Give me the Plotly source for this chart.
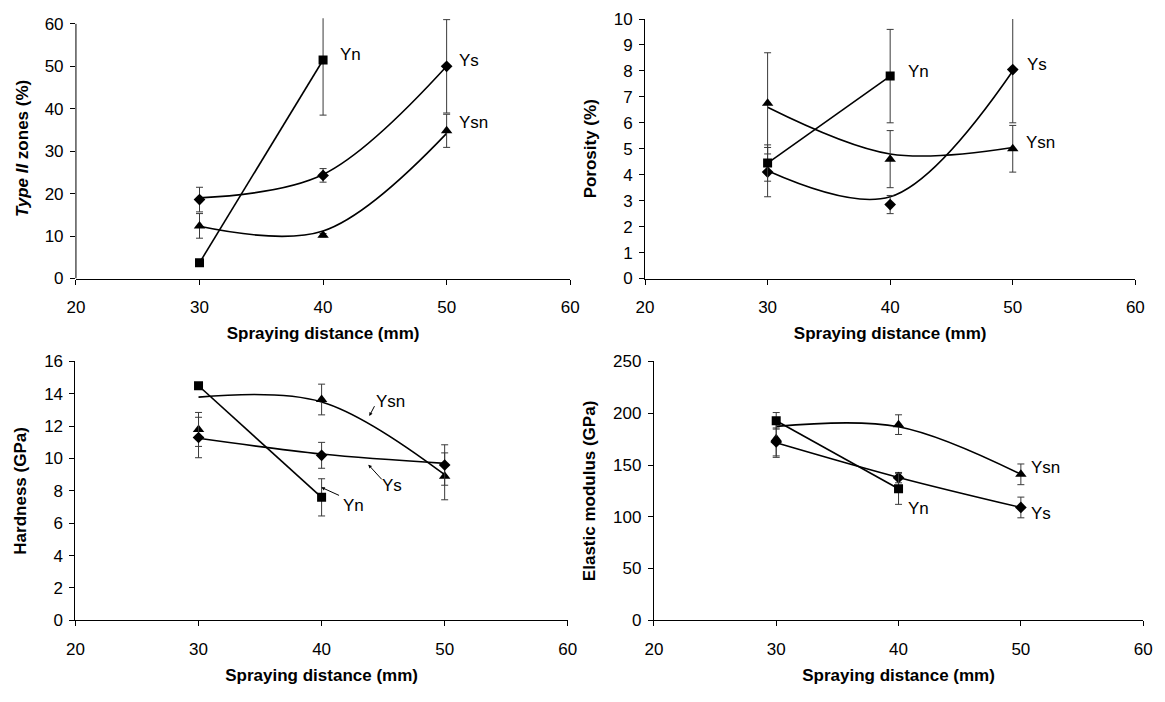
import plotly.graph_objects as go

# ---------------- data ----------------
distance = [30, 40, 50]
distance_yn = [30, 40]

# Panel 1: Type II zones (%)
t2_yn = [3.7, 51.5]
t2_yn_err = [0.5, 13.0]
t2_ys = [18.6, 24.3, 50.0]
t2_ys_err = [2.9, 1.6, 11.0]
t2_ysn = [12.4, 10.2, 34.8]
t2_ysn_err = [2.9, 0.4, 3.9]
t2_ys_curve = [19.0, 24.5, 50.0]
t2_ysn_curve = [12.3, 11.2, 34.2]

# Panel 2: Porosity (%)
po_yn = [4.45, 7.8]
po_yn_err = [0.7, 1.8]
po_ys = [4.1, 2.85, 8.05]
po_ys_err = [0.95, 0.35, 2.05]
po_ysn = [6.75, 4.6, 5.0]
po_ysn_err = [1.95, 1.1, 0.9]
po_ys_curve = [4.15, 3.15, 8.0]
po_ysn_curve = [6.6, 4.8, 5.05]

# Panel 3: Hardness (GPa)
hd_yn = [14.5, 7.6]
hd_yn_err = [0.15, 1.15]
hd_ys = [11.3, 10.2, 9.6]
hd_ys_err = [1.25, 0.8, 1.25]
hd_ysn = [11.8, 13.65, 8.9]
hd_ysn_err = [1.05, 0.95, 1.45]
hd_ys_curve = [11.25, 10.28, 9.7]
hd_ysn_curve = [13.8, 13.5, 9.0]

# Panel 4: Elastic modulus (GPa)
em_yn = [192.7, 127.0]
em_yn_err = [8.0, 15.0]
em_ys = [172.3, 137.8, 109.0]
em_ys_err = [13.5, 5.0, 10.0]
em_ysn = [175.4, 189.0, 141.0]
em_ysn_err = [18.0, 9.5, 10.0]
em_ys_curve = [171.5, 138.0, 109.0]
em_ysn_curve = [187.3, 187.0, 141.0]

x_ticks = [20, 30, 40, 50, 60]

# ---------------- styling ----------------
FONT = "Arial, Liberation Sans, sans-serif"
FS = 17
W, H = 1165, 702
BLACK = "#000000"
ERRC = "#3a3a3a"


def xdom(p0, p1):
    return [p0 / W, p1 / W]


def ydom(top, bottom):
    return [1 - bottom / H, 1 - top / H]


fig = go.Figure()


def add_panel(n, yn, yn_err, ys, ys_err, ysn, ysn_err, ys_curve, ysn_curve):
    xa = "x" if n == 1 else f"x{n}"
    ya = "y" if n == 1 else f"y{n}"
    common = dict(xaxis=xa, yaxis=ya, showlegend=False, hoverinfo="skip")
    spl = dict(color=BLACK, width=1.6, shape="spline", smoothing=1.0)
    fig.add_trace(go.Scatter(x=distance, y=ysn_curve, mode="lines", line=spl, **common))
    fig.add_trace(go.Scatter(x=distance, y=ys_curve, mode="lines", line=spl, **common))
    fig.add_trace(go.Scatter(x=distance_yn, y=yn, mode="lines",
                             line=dict(color=BLACK, width=1.6), **common))
    eb = dict(type="data", visible=True, color=ERRC, thickness=1, width=3.5)
    fig.add_trace(go.Scatter(x=distance, y=ysn, mode="markers",
                             marker=dict(symbol="triangle-up", size=10, color=BLACK),
                             error_y=dict(array=ysn_err, **eb), **common))
    fig.add_trace(go.Scatter(x=distance, y=ys, mode="markers",
                             marker=dict(symbol="diamond", size=9, color=BLACK),
                             error_y=dict(array=ys_err, **eb), **common))
    fig.add_trace(go.Scatter(x=distance_yn, y=yn, mode="markers",
                             marker=dict(symbol="square", size=9, color=BLACK),
                             error_y=dict(array=yn_err, **eb), **common))


add_panel(1, t2_yn, t2_yn_err, t2_ys, t2_ys_err, t2_ysn, t2_ysn_err, t2_ys_curve, t2_ysn_curve)
add_panel(2, po_yn, po_yn_err, po_ys, po_ys_err, po_ysn, po_ysn_err, po_ys_curve, po_ysn_curve)
add_panel(3, hd_yn, hd_yn_err, hd_ys, hd_ys_err, hd_ysn, hd_ysn_err, hd_ys_curve, hd_ysn_curve)
add_panel(4, em_yn, em_yn_err, em_ys, em_ys_err, em_ysn, em_ysn_err, em_ys_curve, em_ysn_curve)

tickfont = dict(family=FONT, size=FS, color=BLACK)
titlefont = dict(family=FONT, size=FS, color=BLACK)


def xaxis(dom, anchor):
    return dict(domain=dom, anchor=anchor, range=[20, 60], tickvals=x_ticks,
                showline=True, linecolor=BLACK, linewidth=1, ticks="outside",
                ticklen=5, tickcolor=BLACK, showgrid=False, zeroline=False,
                tickfont=tickfont, ticklabelstandoff=8,
                title=dict(text="<b>Spraying distance (mm)</b>", font=titlefont, standoff=11))


def yaxis(dom, anchor, rng, tickvals, title, standoff, showline=True):
    return dict(domain=dom, anchor=anchor, range=rng, tickvals=tickvals,
                showline=showline, linecolor=BLACK, linewidth=1, ticks="outside",
                ticklen=5, tickcolor=BLACK, showgrid=False, zeroline=False,
                tickfont=tickfont, ticklabelstandoff=3,
                title=dict(text=title, font=titlefont, standoff=standoff))


# pixel geometry of the four plot areas
p1x, p1y = xdom(68, 570), ydom(277 - 61.3 * (261.7 / 60), 277)
p2x, p2y = xdom(646, 1144), ydom(10.3, 277)
p3x, p3y = xdom(67.5, 567.5), ydom(362.3, 628.3)
p4x, p4y = xdom(655, 1152), ydom(362.3, 628.3)

fig.update_layout(
    width=W, height=H,
    margin=dict(l=0, r=0, t=0, b=0),
    paper_bgcolor="white", plot_bgcolor="white",
    font=dict(family=FONT, color=BLACK),
    xaxis=xaxis(p1x, "y"),
    yaxis=yaxis(p1y, "x", [0, 61.3], [0, 10, 20, 30, 40, 50, 60],
                "<b><i>Type II</i> zones (%)</b>", 11, showline=False),
    xaxis2=xaxis(p2x, "y2"),
    yaxis2=yaxis(p2y, "x2", [0, 10], list(range(0, 11)), "<b>Porosity (%)</b>", 12),
    xaxis3=xaxis(p3x, "y3"),
    yaxis3=yaxis(p3y, "x3", [0, 16], list(range(0, 17, 2)), "<b>Hardness (GPa)</b>", 13),
    xaxis4=xaxis(p4x, "y4"),
    yaxis4=yaxis(p4y, "x4", [0, 250], list(range(0, 251, 50)), "<b>Elastic modulus (GPa)</b>", 13),
)

# y axis line of panel 1 ends at 60 (error bars reach beyond it)
fig.add_shape(type="line", xref="x domain", yref="y", x0=0, x1=0, y0=0, y1=60,
              line=dict(color=BLACK, width=1))

lab = dict(font=dict(family=FONT, size=FS, color=BLACK), showarrow=False)
annos = [
    dict(x=41.2, y=52.8, xref="x", yref="y", text="Yn", xanchor="left", **lab),
    dict(x=50.8, y=51.3, xref="x", yref="y", text="Ys", xanchor="left", **lab),
    dict(x=50.8, y=36.8, xref="x", yref="y", text="Ysn", xanchor="left", **lab),
    dict(x=41.3, y=7.98, xref="x2", yref="y2", text="Yn", xanchor="left", **lab),
    dict(x=51.0, y=8.26, xref="x2", yref="y2", text="Ys", xanchor="left", **lab),
    dict(x=50.9, y=5.26, xref="x2", yref="y2", text="Ysn", xanchor="left", **lab),
    dict(x=45.6, y=13.53, xref="x3", yref="y3", text="Ysn", **lab),
    dict(x=45.7, y=8.32, xref="x3", yref="y3", text="Ys", **lab),
    dict(x=42.6, y=7.09, xref="x3", yref="y3", text="Yn", **lab),
    dict(x=50.7, y=147.2, xref="x4", yref="y4", text="Ysn", xanchor="left", **lab),
    dict(x=50.7, y=103.4, xref="x4", yref="y4", text="Ys", xanchor="left", **lab),
    dict(x=40.6, y=108.1, xref="x4", yref="y4", text="Yn", xanchor="left", **lab),
]
arrow = dict(text="", showarrow=True, arrowhead=2, arrowsize=0.7, arrowwidth=1,
             arrowcolor=BLACK, xref="x3", yref="y3", axref="x3", ayref="y3")
annos += [
    dict(x=43.88, y=12.63, ax=44.36, ay=13.33, **arrow),
    dict(x=43.8, y=9.62, ax=45.0, ay=8.62, **arrow),
    dict(x=39.98, y=8.22, ax=41.54, ay=7.68, **arrow),
]
fig.update_layout(annotations=annos)

# remove the page's default body margin so the figure sits at the window origin
fig.write_html("out.html",
               config={"displayModeBar": False},
               post_script="document.body.style.margin='0';document.body.style.overflow='hidden';")
